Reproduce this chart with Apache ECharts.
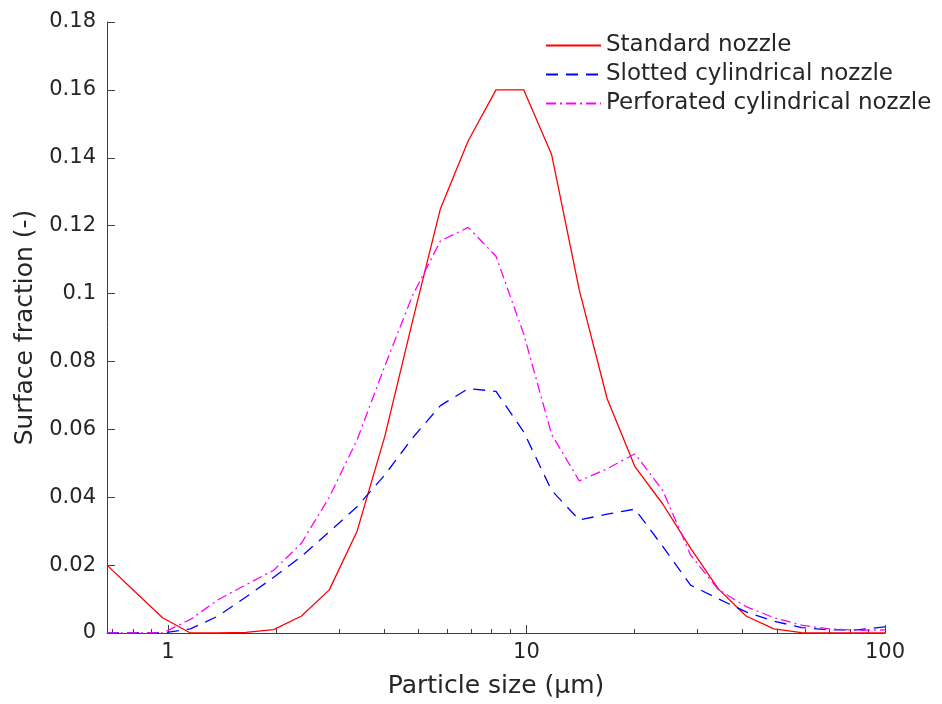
<!DOCTYPE html>
<html>
<head>
<meta charset="utf-8">
<script src="https://cdn.jsdelivr.net/npm/echarts@6/dist/echarts.min.js"></script>
<style>
  html, body { margin: 0; padding: 0; background: #fff; }
  #chart { width: 942px; height: 704px; }
</style>
</head>
<body>
<div id="chart"></div>
<script>
// Particle size bins (µm)
const sizes = [0.676, 0.808, 0.966, 1.155, 1.380, 1.650, 1.972, 2.358, 2.818, 3.369,
               4.027, 4.814, 5.754, 6.879, 8.222, 9.829, 11.75, 14.04, 16.79, 20.07,
               23.99, 28.68, 34.28, 40.97, 48.98, 58.55, 69.98, 83.65, 100];

// Surface fraction per bin
const standardNozzle = [0.020, 0.0122, 0.0045, 0, 0, 0.0002, 0.001, 0.005, 0.0127, 0.030,
                        0.058, 0.092, 0.125, 0.145, 0.160, 0.160, 0.141, 0.101, 0.069, 0.049,
                        0.038, 0.025, 0.013, 0.005, 0.0012, 0.0001, 0, 0, 0];
const slottedNozzle = [0, 0, 0, 0.0012, 0.005, 0.0106, 0.0164, 0.0226, 0.0298, 0.0372,
                       0.0466, 0.0575, 0.067, 0.072, 0.0712, 0.0592, 0.042, 0.0333, 0.035, 0.0365,
                       0.0255, 0.0141, 0.0101, 0.0062, 0.0035, 0.0016, 0.0009, 0.0009, 0.0018];
const perforatedNozzle = [0, 0, 0, 0.004, 0.0098, 0.0142, 0.0185, 0.0265, 0.040, 0.0569,
                          0.0787, 0.0995, 0.1155, 0.1195, 0.111, 0.088, 0.0585, 0.0448, 0.0484, 0.0528,
                          0.042, 0.023, 0.0128, 0.0078, 0.0045, 0.0023, 0.0012, 0.0008, 0.0009];

const seriesNames = ['Standard nozzle', 'Slotted cylindrical nozzle', 'Perforated cylindrical nozzle'];

// Log-scale axis: decades labelled, minor ticks at 2..9 of each decade
const xMin = 0.676, xMax = 100;
const majorTicks = [1, 10, 100];
const minorTicks = [0.7, 0.8, 0.9, 2, 3, 4, 5, 6, 7, 8, 9, 20, 30, 40, 50, 60, 70, 80, 90];

const lg = v => Math.log10(v);
const toPairs = vals => sizes.map((s, i) => [lg(s), vals[i]]);

const FONT = 'DejaVu Sans';
const INK = '#262626';
const AXIS = '#404040';

const chart = echarts.init(document.getElementById('chart'), null, { renderer: 'canvas' });

const baseX = {
  type: 'value',
  min: lg(xMin),
  max: lg(xMax),
  splitLine: { show: false },
  gridIndex: 0
};

chart.setOption({
  backgroundColor: '#fff',
  animation: false,
  grid: { left: 107, right: 57, top: 22, bottom: 68, containLabel: false },
  xAxis: [
    Object.assign({}, baseX, {
      position: 'bottom',
      name: 'Particle size (µm)',
      nameLocation: 'middle',
      nameGap: 41,
      nameTextStyle: { fontFamily: FONT, fontSize: 25, color: INK },
      axisLine: { show: true, onZero: false, lineStyle: { color: AXIS, width: 1 } },
      axisTick: { show: true, inside: true, length: 8, lineStyle: { color: AXIS },
                  customValues: majorTicks.map(lg) },
      axisLabel: { show: true, margin: 9, fontFamily: FONT, fontSize: 21, color: INK,
                   customValues: majorTicks.map(lg),
                   formatter: v => String(Math.round(Math.pow(10, v))) }
    }),
    Object.assign({}, baseX, {
      position: 'bottom',
      offset: 0,
      axisLine: { show: false, onZero: false },
      axisTick: { show: true, inside: true, length: 4, lineStyle: { color: AXIS },
                  customValues: minorTicks.map(lg) },
      axisLabel: { show: false }
    })
  ],
  yAxis: {
    type: 'value',
    min: 0,
    max: 0.18,
    interval: 0.02,
    position: 'left',
    name: 'Surface fraction (-)',
    nameLocation: 'middle',
    nameGap: 68,
    nameTextStyle: { fontFamily: FONT, fontSize: 25, color: INK },
    splitLine: { show: false },
    axisLine: { show: true, onZero: false, lineStyle: { color: AXIS, width: 1 } },
    axisTick: { show: true, inside: true, length: 8, lineStyle: { color: AXIS } },
    axisLabel: { margin: 11, fontFamily: FONT, fontSize: 21, color: INK }
  },
  legend: {
    orient: 'vertical',
    left: 540,
    top: 29,
    itemWidth: 55,
    itemHeight: 14,
    itemGap: 6,
    data: seriesNames,
    itemStyle: { opacity: 0 },
    textStyle: { fontFamily: FONT, fontSize: 23, color: INK }
  },
  series: [
    {
      name: seriesNames[0], type: 'line', xAxisIndex: 0,
      data: toPairs(standardNozzle),
      symbol: 'none', smooth: false,
      lineStyle: { color: '#ff0000', width: 1.3, type: 'solid' },
      itemStyle: { color: '#ff0000' }
    },
    {
      name: seriesNames[1], type: 'line', xAxisIndex: 0,
      data: toPairs(slottedNozzle),
      symbol: 'none', smooth: false,
      lineStyle: { color: '#0000ff', width: 1.3, type: [12, 8] },
      itemStyle: { color: '#0000ff' }
    },
    {
      name: seriesNames[2], type: 'line', xAxisIndex: 0,
      data: toPairs(perforatedNozzle),
      symbol: 'none', smooth: false,
      lineStyle: { color: '#ff00ff', width: 1.3, type: [10, 4, 2, 4] },
      itemStyle: { color: '#ff00ff' }
    }
  ]
});
</script>
</body>
</html>
